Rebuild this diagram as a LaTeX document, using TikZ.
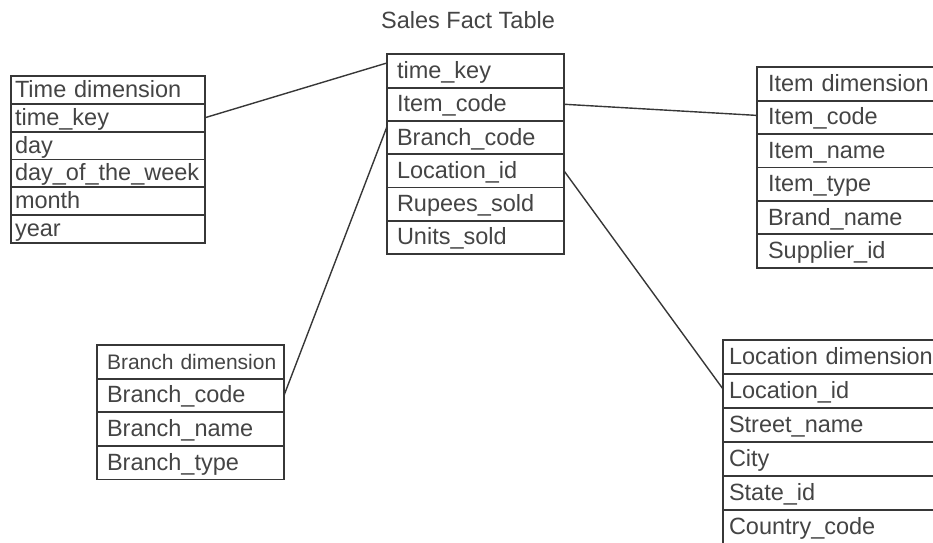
\documentclass[tikz,border=0pt]{standalone}
\usepackage{fontspec}
\setmainfont{Liberation Sans}
\usetikzlibrary{positioning}

\definecolor{linegray}{RGB}{55,55,55}
\definecolor{textgray}{RGB}{68,68,68}

\begin{document}
\begin{tikzpicture}[
    x=1pt, y=-1pt,
    field/.style={rectangle, draw=linegray, line width=1.8pt, outer sep=0pt, inner ysep=0pt,
                  align=left, text=textgray, text height=18pt, text depth=3pt,
                  font=\fontsize{23.5}{28}\selectfont},
    timerow/.style={field, text width=186pt, inner xsep=4pt, minimum height=27.8pt},
    factrow/.style={field, text width=157pt, inner xsep=10pt, minimum height=33.3pt},
    itemrow/.style={field, text width=162pt, inner xsep=11pt, minimum height=33.4pt},
    branchrow/.style={field, text width=167pt, inner xsep=10pt, minimum height=33.6pt},
    locrow/.style={field, text width=206pt, inner xsep=6pt, minimum height=34pt},
    link/.style={draw=linegray, line width=1.4pt}
]
    \useasboundingbox (0,0) rectangle (933,542);
    \clip (0,0) rectangle (933,542);

    % Title
    \node (title) [text=textgray, font=\fontsize{23.5}{28}\selectfont] at (468,20) {Sales Fact Table};

    % Fact table
    \node (fkey) [factrow, anchor=north west] at (387,54.3) {time\_key};
    \node (fitem) [factrow, below=0pt of fkey] {Item\_code};
    \node (fbranch) [factrow, below=0pt of fitem] {Branch\_code};
    \node (floc) [factrow, below=0pt of fbranch] {Location\_id};
    \node (frupees) [factrow, below=0pt of floc] {Rupees\_sold};
    \node (funits) [factrow, below=0pt of frupees] {Units\_sold};

    % Time dimension
    \node (thead) [timerow, anchor=north west] at (11,76) {Time dimension};
    \node (tkey) [timerow, below=0pt of thead] {time\_key};
    \node (tday) [timerow, below=0pt of tkey] {day};
    \node (tweek) [timerow, below=0pt of tday] {day\_of\_the\_week};
    \node (tmonth) [timerow, below=0pt of tweek] {month};
    \node (tyear) [timerow, below=0pt of tmonth] {year};

    % Item dimension
    \node (ihead) [itemrow, anchor=north west] at (757,67.3) {Item dimension};
    \node (icode) [itemrow, below=0pt of ihead] {Item\_code};
    \node (iname) [itemrow, below=0pt of icode] {Item\_name};
    \node (itype) [itemrow, below=0pt of iname] {Item\_type};
    \node (ibrand) [itemrow, below=0pt of itype] {Brand\_name};
    \node (isupp) [itemrow, below=0pt of ibrand] {Supplier\_id};

    % Branch dimension
    \node (bhead) [branchrow, anchor=north west, font=\fontsize{21}{25}\selectfont] at (97,345) {\mbox{Branch dimension}};
    \node (bcode) [branchrow, below=0pt of bhead] {Branch\_code};
    \node (bname) [branchrow, below=0pt of bcode] {Branch\_name};
    \node (btype) [branchrow, below=0pt of bname] {Branch\_type};

    % Location dimension
    \node (lhead) [locrow, anchor=north west] at (723,340) {Location dimension};
    \node (lid) [locrow, below=0pt of lhead] {Location\_id};
    \node (lstreet) [locrow, below=0pt of lid] {Street\_name};
    \node (lcity) [locrow, below=0pt of lstreet] {City};
    \node (lstate) [locrow, below=0pt of lcity] {State\_id};
    \node (lcountry) [locrow, below=0pt of lstate] {Country\_code};

    % Connections
    \draw [link] (tkey.east) -- ([yshift=8pt]fkey.west);
    \draw [link] (fitem.east) -- ([yshift=2pt]icode.west);
    \draw [link] (bcode.east) -- ([yshift=11pt]fbranch.west);
    \draw [link] (floc.east) -- ([yshift=2pt]lid.west);

\end{tikzpicture}
\end{document}
